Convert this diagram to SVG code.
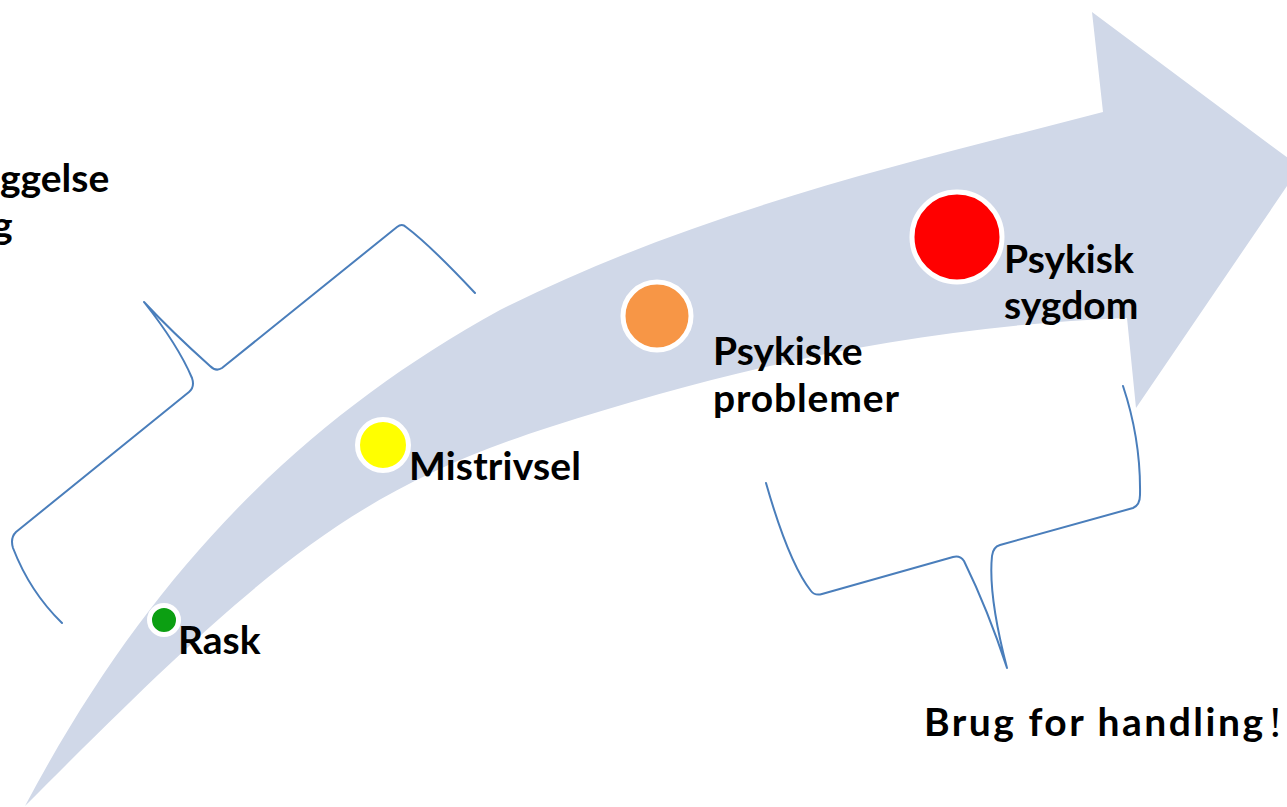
<svg xmlns="http://www.w3.org/2000/svg" width="1287" height="807" viewBox="0 0 1287 807">
  <style>
    .lbl { font-family: Lato, "Open Sans", "Liberation Sans", sans-serif; font-weight: 700; font-size: 39px; fill: #000; }
    .dot { stroke: #ffffff; stroke-width: 5; }
    .brace { fill: none; stroke: #4a7ebb; stroke-width: 2; stroke-linejoin: round; stroke-linecap: round; }
  </style>
  <rect width="1287" height="807" fill="#ffffff"/>
  <g id="arrow">
    <path fill="#d0d8e8" d="M25,806 C148,574 300,420 500,310 C700,210 903,164 1103,112 L1092,12 L1300,167 L1136,408 L1127,318 C927,326 750,363 550,427 C350,491 260,570 25,806 Z"/>
  </g>
  <g id="connectors">
    <path id="brace-left" class="brace" d="M475,293 Q430,245 406,227 Q402,223 397,227 L222,368 Q216,372 210,366 Q172,332 144,302 Q178,345 192,378 Q195,387 189,392 L16,532 Q10,538 13,548 Q30,592 62,623"/>
    <path id="brace-right" class="brace" d="M766,483 C780,532 796,572 811,591 Q815,596 822,594 L953,557 Q960,555 964,561 Q988,610 1007,668 Q988,595 992,556 Q993,547 1000,545 L1133,508 Q1140,505 1140,495 Q1141,440 1123,386"/>
  </g>
  <g id="node-rask">
    <circle class="dot" cx="164" cy="620" r="14.5" fill="#0c9f12"/>
    <text class="lbl" x="178" y="654">Rask</text>
  </g>
  <g id="node-mistrivsel">
    <circle class="dot" cx="383" cy="445" r="25.5" fill="#ffff00"/>
    <text class="lbl" x="409" y="480" textLength="172" lengthAdjust="spacing">Mistrivsel</text>
  </g>
  <g id="node-psykiske-problemer">
    <circle class="dot" cx="657" cy="316" r="34" fill="#f79646"/>
    <text class="lbl" x="713" y="365">Psykiske</text>
    <text class="lbl" x="713" y="412" textLength="186" lengthAdjust="spacing">problemer</text>
  </g>
  <g id="node-psykisk-sygdom">
    <circle class="dot" cx="957" cy="237" r="45" fill="#ff0000"/>
    <text class="lbl" x="1004" y="273">Psykisk</text>
    <text class="lbl" x="1004" y="319">sygdom</text>
  </g>
  <g id="label-left">
    <text class="lbl" x="0" y="192">ggelse</text>
    <text class="lbl" x="-8" y="239">g</text>
  </g>
  <g id="label-action">
    <text class="lbl" x="924" y="736" font-size="41" textLength="339" lengthAdjust="spacing">Brug for handling</text>
    <text x="1268" y="737" font-family="'Liberation Serif', serif" font-size="44" fill="#000">!</text>
  </g>
</svg>
